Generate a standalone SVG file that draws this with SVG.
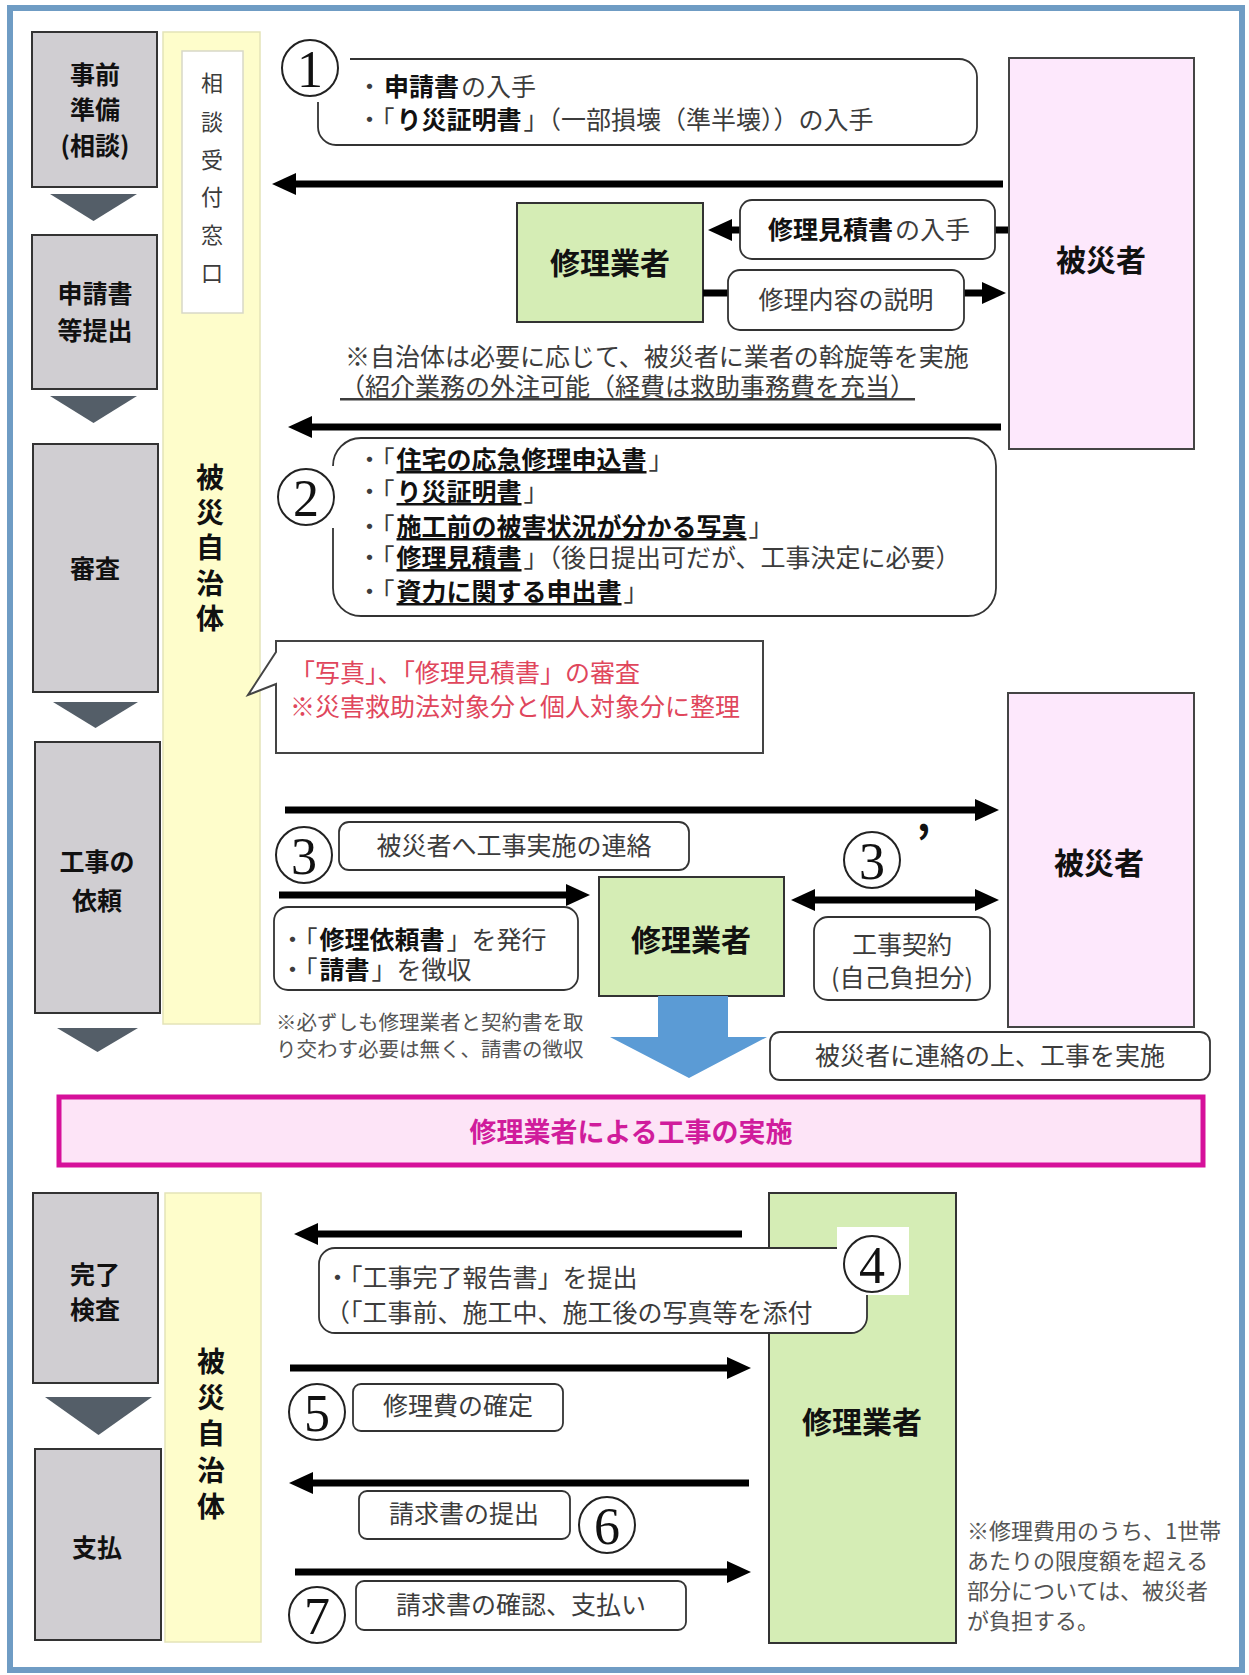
<svg xmlns="http://www.w3.org/2000/svg" width="1249" height="1675" viewBox="0 0 1249 1675">
<style>
text{font-family:"Noto Sans CJK JP","Noto Sans",sans-serif;}
.stage{fill:#D0CED2;stroke:#333;stroke-width:2;}
.tri{fill:#545E68;}
.band{fill:#FEFDCB;stroke:#E4E3B8;stroke-width:1.5;}
.pink{fill:#FDE8FC;stroke:#444;stroke-width:2;}
.green{fill:#D5EDB5;stroke:#333;stroke-width:2;}
.lbl{fill:#fff;stroke:#333;stroke-width:1.8;}
.b{font-weight:700;fill:#111;}
.n{font-weight:400;fill:#3c3c3c;}
.t25{font-size:25px;}
.big{font-size:30px;font-weight:700;fill:#111;text-anchor:middle;}
.st{font-size:25px;font-weight:700;fill:#111;text-anchor:middle;}
.mid{text-anchor:middle;}
.num{fill:#fff;stroke:#222;stroke-width:2;}
.dg{font-family:"Liberation Serif",serif;font-size:52px;fill:#111;text-anchor:middle;}
.arr{stroke:#000;stroke-width:7;fill:none;}
.red{fill:#E0465C;font-size:25px;}
.note{fill:#555;font-weight:400;}
.u{text-decoration:underline;}
</style>
<defs>
<marker id="ah" markerUnits="userSpaceOnUse" markerWidth="24" markerHeight="24" viewBox="0 0 24 24" refX="12" refY="12" orient="auto-start-reverse"><path d="M0,1 L24,12 L0,23 z" fill="#000"/></marker>
</defs>
<rect x="10" y="8" width="1232" height="1662" fill="#fff" stroke="#6F9CC4" stroke-width="6"/>

<g id="stage-jizen"><rect class="stage" x="32" y="32" width="125" height="155"/>
<text class="st" x="95" y="84">事前</text><text class="st" x="95" y="119">準備</text><text class="st" x="95" y="155">(相談)</text></g>
<polygon class="tri" points="50,194 137,194 93.5,221"/>
<g id="stage-shinsei"><rect class="stage" x="32" y="235" width="125" height="154"/>
<text class="st" x="95" y="303">申請書</text><text class="st" x="95" y="340">等提出</text></g>
<polygon class="tri" points="50,396 137,396 93.5,423"/>
<g id="stage-shinsa"><rect class="stage" x="33" y="444" width="125" height="248"/>
<text class="st" x="95" y="578">審査</text></g>
<polygon class="tri" points="53,702 138,702 95.5,728"/>
<g id="stage-irai"><rect class="stage" x="35" y="742" width="125" height="271"/>
<text class="st" x="97" y="871">工事の</text><text class="st" x="97" y="910">依頼</text></g>
<polygon class="tri" points="57,1028 138,1028 97.5,1052"/>
<g id="stage-kanryo"><rect class="stage" x="33" y="1193" width="125" height="190"/>
<text class="st" x="95" y="1284">完了</text><text class="st" x="95" y="1319">検査</text></g>
<polygon class="tri" points="45,1397 152,1397 98.5,1435"/>
<g id="stage-shiharai"><rect class="stage" x="35" y="1449" width="126" height="191"/>
<text class="st" x="97" y="1557">支払</text></g>

<g id="jichitai-top"><rect class="band" x="163" y="32" width="97" height="992"/>
<rect x="182" y="51" width="61" height="262" fill="#fff" stroke="#D8D8C8" stroke-width="1.5"/>
<g class="n" font-size="22" text-anchor="middle" fill="#555">
<text x="212" y="91">相</text><text x="212" y="130">談</text><text x="212" y="168">受</text><text x="212" y="205">付</text><text x="212" y="243">窓</text><text x="212" y="281">口</text></g>
<g font-size="28" font-weight="700" fill="#111" text-anchor="middle">
<text x="210" y="488">被</text><text x="210" y="523">災</text><text x="210" y="558">自</text><text x="210" y="594">治</text><text x="210" y="629">体</text></g></g>

<g id="jichitai-bottom"><rect class="band" x="165" y="1193" width="96" height="449"/>
<g font-size="28" font-weight="700" fill="#111" text-anchor="middle">
<text x="211" y="1372">被</text><text x="211" y="1408">災</text><text x="211" y="1444">自</text><text x="211" y="1481">治</text><text x="211" y="1517">体</text></g></g>

<g id="hisaisha-top"><rect class="pink" x="1009" y="58" width="185" height="391"/><text class="big" x="1101" y="271">被災者</text></g>
<g id="hisaisha-mid"><rect class="pink" x="1008" y="693" width="186" height="334"/><text class="big" x="1099" y="874">被災者</text></g>
<g id="gyosha-top"><rect class="green" x="517" y="203" width="186" height="119"/><text class="big" x="610" y="274">修理業者</text></g>
<g id="gyosha-mid"><rect class="green" x="599" y="877" width="185" height="119"/><text class="big" x="691" y="951">修理業者</text></g>
<g id="gyosha-bottom"><rect class="green" x="769" y="1193" width="187" height="450"/><text class="big" x="862" y="1433">修理業者</text></g>

<g id="connectors">
<line class="arr" x1="1003" y1="184" x2="284" y2="184" marker-end="url(#ah)"/>
<line class="arr" x1="1001" y1="427" x2="300" y2="427" marker-end="url(#ah)"/>
<line class="arr" x1="1008" y1="230" x2="720" y2="230" marker-end="url(#ah)"/>
<line class="arr" x1="703" y1="293" x2="994" y2="293" marker-end="url(#ah)"/>
<line class="arr" x1="285" y1="810" x2="987" y2="810" marker-end="url(#ah)"/>
<line class="arr" x1="279" y1="895" x2="578" y2="895" marker-end="url(#ah)"/>
<line class="arr" x1="803" y1="900" x2="987" y2="900" marker-start="url(#ah)" marker-end="url(#ah)"/>
<line class="arr" x1="742" y1="1234" x2="306" y2="1234" marker-end="url(#ah)"/>
<line class="arr" x1="290" y1="1368" x2="739" y2="1368" marker-end="url(#ah)"/>
<line class="arr" x1="749" y1="1483" x2="301" y2="1483" marker-end="url(#ah)"/>
<line class="arr" x1="295" y1="1572" x2="739" y2="1572" marker-end="url(#ah)"/>
<polygon points="658,996 728,996 728,1037 767,1037 689,1078 610,1037 658,1037" fill="#5B9BD5"/>
</g>

<g id="step1"><rect class="lbl" x="318" y="59" width="659" height="86" rx="18"/>
<rect x="280" y="36" width="70" height="66" fill="#fff"/>
<circle class="num" cx="310" cy="68" r="28"/><text class="dg" x="310" y="87">1</text>
<text class="t25" x="357" y="96"><tspan class="n">・</tspan><tspan class="b" dx="2">申請書</tspan><tspan class="n" dx="2">の入手</tspan></text>
<text class="t25" x="357" y="129"><tspan class="n">・「</tspan><tspan class="b" dx="2">り災証明書</tspan><tspan class="n" dx="2">」（一部損壊（準半壊））の入手</tspan></text></g>

<g id="label-mitsumori"><rect class="lbl" x="740" y="200" width="255" height="59" rx="12"/>
<text class="t25" x="768" y="239"><tspan class="b">修理見積書</tspan><tspan class="n" dx="2">の入手</tspan></text></g>
<g id="label-setsumei"><rect class="lbl" x="728" y="270" width="236" height="60" rx="12"/>
<text class="t25 n mid" x="846" y="309">修理内容の説明</text></g>

<g id="note-assen">
<text class="t25 n" x="345" y="366">※自治体は必要に応じて、被災者に業者の斡旋等を実施</text>
<text class="t25 n u" x="340" y="396">（紹介業務の外注可能（経費は救助事務費を充当）</text></g>

<g id="step2"><rect class="lbl" x="333" y="438" width="663" height="178" rx="28"/>
<rect x="278" y="466" width="60" height="62" fill="#fff"/>
<circle class="num" cx="306" cy="497" r="28"/><text class="dg" x="306" y="516">2</text>
<text class="t25" x="357" y="469"><tspan class="n">・「</tspan><tspan class="b u" dx="2">住宅の応急修理申込書</tspan><tspan class="n" dx="2">」</tspan></text>
<text class="t25" x="357" y="501"><tspan class="n">・「</tspan><tspan class="b u" dx="2">り災証明書</tspan><tspan class="n" dx="2">」</tspan></text>
<text class="t25" x="357" y="536"><tspan class="n">・「</tspan><tspan class="b u" dx="2">施工前の被害状況が分かる写真</tspan><tspan class="n" dx="2">」</tspan></text>
<text class="t25" x="357" y="567"><tspan class="n">・「</tspan><tspan class="b u" dx="2">修理見積書</tspan><tspan class="n" dx="2">」（後日提出可だが、工事決定に必要）</tspan></text>
<text class="t25" x="357" y="601"><tspan class="n">・「</tspan><tspan class="b u" dx="2">資力に関する申出書</tspan><tspan class="n" dx="2">」</tspan></text></g>

<g id="bubble-shinsa"><path d="M276,641 H763 V753 H276 V684 L248,695 L276,652 Z" fill="#fff" stroke="#444" stroke-width="2"/>
<text class="red" x="290" y="682">「写真」、「修理見積書」の審査</text>
<text class="red" x="290" y="716">※災害救助法対象分と個人対象分に整理</text></g>

<g id="step3"><circle class="num" cx="304" cy="855" r="28"/><text class="dg" x="304" y="874">3</text>
<rect class="lbl" x="339" y="822" width="350" height="48" rx="10"/>
<text class="t25 n mid" x="514" y="855">被災者へ工事実施の連絡</text></g>

<g id="label-irai"><rect class="lbl" x="274" y="907" width="304" height="83" rx="14"/>
<text class="t25" x="280" y="949"><tspan class="n">・「</tspan><tspan class="b" dx="2">修理依頼書</tspan><tspan class="n" dx="2">」を発行</tspan></text>
<text class="t25" x="280" y="979"><tspan class="n">・「</tspan><tspan class="b" dx="2">請書</tspan><tspan class="n" dx="2">」を徴収</tspan></text></g>

<g id="note-ukesho" font-size="20.5" class="note">
<text x="276" y="1030">※必ずしも修理業者と契約書を取</text>
<text x="276" y="1057">り交わす必要は無く、請書の徴収</text></g>

<g id="step3b"><circle class="num" cx="872" cy="860" r="28"/><text class="dg" x="872" y="879">3</text>
<text x="916" y="860" font-family="Liberation Serif,serif" font-size="46" font-weight="700" fill="#111">’</text>
<rect class="lbl" x="814" y="917" width="176" height="83" rx="14"/>
<text class="t25 n mid" x="902" y="954">工事契約</text>
<text class="t25 n mid" x="902" y="987">(自己負担分)</text></g>

<g id="label-renraku"><rect class="lbl" x="770" y="1032" width="440" height="48" rx="10"/>
<text class="t25 n mid" x="990" y="1065">被災者に連絡の上、工事を実施</text></g>

<g id="koji-jisshi"><rect x="59" y="1097" width="1144" height="68" fill="#FDE4F7" stroke="#D6109A" stroke-width="5"/>
<text x="631" y="1142" font-size="27" font-weight="700" fill="#D01C9C" text-anchor="middle">修理業者による工事の実施</text></g>

<g id="step4"><rect class="lbl" x="319" y="1248" width="548" height="85" rx="16"/>
<rect x="837" y="1227" width="72" height="68" fill="#fff"/>
<circle class="num" cx="872" cy="1264" r="28"/><text class="dg" x="872" y="1283">4</text>
<text class="t25 n" x="325" y="1287">・「工事完了報告書」を提出</text>
<text class="t25 n" x="325" y="1322">（「工事前、施工中、施工後の写真等を添付</text></g>

<g id="step5"><circle class="num" cx="317" cy="1412" r="28"/><text class="dg" x="317" y="1431">5</text>
<rect class="lbl" x="353" y="1384" width="210" height="47" rx="8"/>
<text class="t25 n mid" x="458" y="1415">修理費の確定</text></g>

<g id="step6"><circle class="num" cx="607" cy="1525" r="28"/><text class="dg" x="607" y="1544">6</text>
<rect class="lbl" x="359" y="1491" width="211" height="48" rx="8"/>
<text class="t25 n mid" x="464" y="1523">請求書の提出</text></g>

<g id="step7"><circle class="num" cx="317" cy="1615" r="28"/><text class="dg" x="317" y="1634">7</text>
<rect class="lbl" x="356" y="1581" width="330" height="49" rx="8"/>
<text class="t25 n mid" x="521" y="1614">請求書の確認、支払い</text></g>

<g id="note-futan" font-size="22" class="note">
<text x="967" y="1539">※修理費用のうち、1世帯</text>
<text x="967" y="1569">あたりの限度額を超える</text>
<text x="967" y="1599">部分については、被災者</text>
<text x="967" y="1629">が負担する。</text></g>
</svg>
